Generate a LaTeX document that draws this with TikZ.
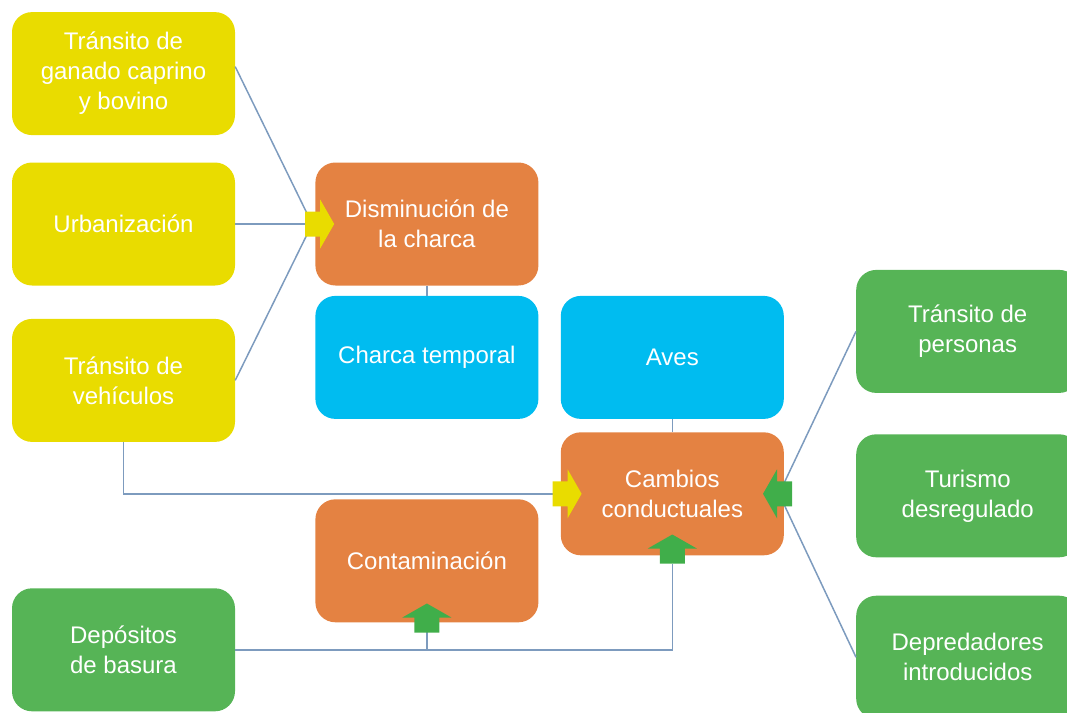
\documentclass[tikz,border=0pt]{standalone}
\usepackage{fontspec}
\setmainfont{Liberation Sans}
\usetikzlibrary{calc}
\usetikzlibrary{positioning}

\definecolor{yel}{RGB}{233,220,0}
\definecolor{ora}{RGB}{228,130,66}
\definecolor{blu}{RGB}{0,188,240}
\definecolor{grn}{RGB}{86,180,86}
\definecolor{grnarrow}{RGB}{64,174,74}
\definecolor{linkblue}{RGB}{125,155,190}

\begin{document}
\begin{tikzpicture}[
        x=1pt,y=1pt,
        box/.style={rounded corners=20pt,minimum width=223pt,minimum height=123pt,
            align=center,text=white,font=\fontsize{24}{30}\selectfont},
        yelbox/.style={box,fill=yel},
        orabox/.style={box,fill=ora},
        blubox/.style={box,fill=blu},
        grnbox/.style={box,fill=grn},
        link/.style={draw=linkblue,line width=1.5pt},
        pics/blockarrow/.style={code={
            \fill[#1] (0,-12.5) -- (15,-12.5) -- (15,-24.5) -- (29,0)
                -- (15,24.5) -- (15,12.5) -- (0,12.5) -- cycle;
        }}
    ]
    \useasboundingbox (0,0) rectangle (1067,-712);
    \clip (0,0) rectangle (1067,-712);

    \node[yelbox] (urb) at (123.5,-224) {Urbanización};
    \node[yelbox,above=27pt of urb] (gan) {Tránsito de\\ganado caprino\\y bovino};
    \node[yelbox,below=33pt of urb] (veh) {Tránsito de\\vehículos};

    \node[orabox,right=80pt of urb] (dis) {Disminución de\\la charca};
    \node[blubox,below=10pt of dis] (cha) {Charca temporal};
    \node[blubox,right=22pt of cha] (aves) {Aves};
    \node[orabox,below=13pt of aves] (cam) {Cambios\\conductuales};
    \node[orabox,below=80pt of cha] (con) {Contaminación};
    \node[grnbox,below=146pt of veh] (dep) {Depósitos\\de basura};

    \node[grnbox,right=72pt of cam,yshift=-2pt] (tur) {Turismo\\desregulado};
    \node[grnbox,above=41pt of tur] (per) {Tránsito de\\personas};
    \node[grnbox,below=38pt of tur] (pred) {Depredadores\\introducidos};

    \coordinate (din) at ([xshift=-3pt]dis.west);
    \coordinate (cin) at ([xshift=-5pt]cam.east);

    \draw[link] ([yshift=7pt]gan.east) -- (din);
    \draw[link] (urb.east) -- (din);
    \draw[link] (veh.east) -- (din);
    \draw[link] (veh.south) |- ([xshift=-5pt]cam.west);
    \draw[link] (dis) -- (cha);
    \draw[link] (aves) -- (cam);
    \draw[link] (dep.east) -| ([yshift=-8pt]cam.south);
    \draw[link] (con.south |- dep.east) -- (con.south);
    \draw[link] (per.west) -- (cin);
    \draw[link] (pred.west) -- (cin);

    % arrow heads on top of the links
    \pic at ([xshift=-10pt]dis.west) {blockarrow=yel};
    \pic at ([xshift=-8pt]cam.west) {blockarrow=yel};
    \pic[rotate=180] at ([xshift=8pt]cam.east) {blockarrow=grnarrow};
    \pic[rotate=90] at ([yshift=-8pt]cam.south) {blockarrow=grnarrow};
    \pic[rotate=90] at ([yshift=-10pt]con.south) {blockarrow=grnarrow};
\end{tikzpicture}
\end{document}
